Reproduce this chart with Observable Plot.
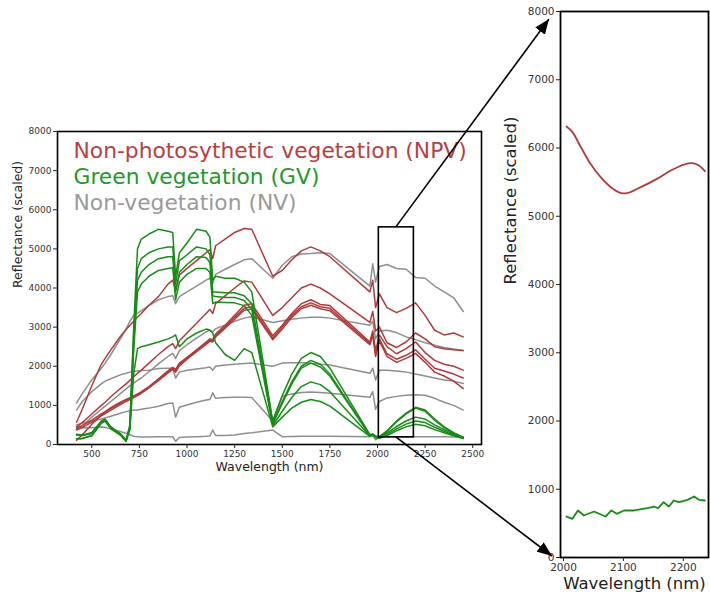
<!DOCTYPE html>
<html>
<head>
<meta charset="utf-8">
<script src="https://cdn.jsdelivr.net/npm/d3@7"></script>
<script src="https://cdn.jsdelivr.net/npm/@observablehq/plot@0.6"></script>
<style>
  html, body { margin: 0; padding: 0; background: #fff; }
  #fig { position: relative; width: 710px; height: 599px; overflow: hidden; background: #fff; }
  #main, #inset, #overlay { position: absolute; top: 0; }
  #main { left: 0; }
  #inset { left: 490px; }
  #overlay { left: 0; pointer-events: none; }
</style>
</head>
<body>
<div id="fig">
  <div id="main"></div>
  <div id="inset"></div>
  <svg id="overlay" width="710" height="599"></svg>
</div>
<script>
// ---------- data ----------
const wl = [420,450,500,550,570,600,650,680,700,720,740,760,800,850,900,925,940,960,1000,1050,1100,1120,1135,1150,1200,1250,1300,1340,1450,1500,1550,1600,1650,1700,1750,1960,1975,1990,2010,2050,2100,2150,2200,2250,2300,2350,2400,2450];

// Non-photosynthetic vegetation (NPV)
const npv1 = [570,900,1500,2050,2200,2420,2760,2940,3050,3150,3250,3350,3560,3780,4100,4200,3950,4330,4500,4700,4900,4980,4750,5080,5250,5420,5520,5500,4300,4450,4720,4950,5050,4950,4800,3900,4200,3500,3850,3500,3370,3480,3620,3300,2920,2800,2850,2750];
const npv2 = [450,560,780,1000,1080,1220,1430,1550,1640,1730,1820,1900,2080,2300,2500,2580,2450,2650,2850,3100,3350,3450,3350,3600,3800,4000,4180,4150,3300,3500,3750,4000,4100,4000,3850,3120,3400,2900,3000,2600,2480,2620,2850,2700,2500,2450,2420,2400];
const npv3 = [420,480,620,780,840,920,1060,1140,1190,1240,1290,1350,1480,1680,1880,1970,1920,2080,2230,2420,2620,2700,2680,2820,3050,3300,3560,3600,2780,3050,3350,3600,3700,3580,3550,2620,2900,2400,2800,2500,2320,2450,2620,2350,2150,2050,2000,1900];
const npv4 = [370,430,570,730,790,880,1020,1100,1150,1200,1250,1310,1450,1650,1850,1940,1880,2040,2200,2390,2590,2670,2650,2780,3000,3250,3480,3520,2720,3000,3300,3520,3620,3520,3480,2580,2850,2300,2700,2320,2180,2280,2420,2180,1950,1880,1800,1700];
const npv5 = [110,250,520,750,830,940,1080,1150,1190,1230,1280,1330,1450,1630,1830,1920,1850,2010,2180,2370,2560,2640,2620,2750,2970,3200,3430,3460,2680,2950,3250,3470,3560,3470,3420,2550,2800,2250,2650,2250,2100,2200,2330,2100,1850,1750,1620,1430];

// Green vegetation (GV)
const gv1 = [250,230,300,600,650,450,280,120,500,3000,5000,5250,5380,5500,5450,5420,4300,4900,5150,5500,5450,5300,4200,4300,4250,4250,4150,3900,600,1250,1800,2200,2350,2250,1950,250,270,220,200,350,600,800,950,880,650,450,300,190];
const gv2 = [150,160,230,560,620,420,250,90,450,2800,4500,4750,4900,5000,5050,5050,4100,4700,4850,5050,5000,4850,3900,3900,3880,3880,3800,3600,550,1100,1600,2000,2150,2050,1800,240,260,200,190,340,580,780,930,850,620,430,280,180];
const gv3 = [260,240,300,580,640,440,270,100,420,2600,4200,4400,4600,4750,4800,4800,3900,4400,4600,4800,4780,4650,3800,3780,3760,3760,3680,3450,520,1050,1550,1950,2080,1980,1750,230,250,190,180,300,460,600,700,650,500,380,260,170];
const gv4 = [140,150,220,540,600,400,240,80,400,2400,3900,4100,4300,4450,4500,4520,3700,4150,4350,4500,4500,4400,3600,3640,3630,3620,3550,3300,480,850,1200,1480,1600,1530,1350,220,240,180,170,260,400,520,600,560,440,340,240,160];
const gv5 = [250,230,280,560,620,430,260,110,380,1800,2450,2500,2550,2620,2700,2750,2800,2500,2700,2850,2950,2920,2850,2600,2300,2150,2450,2350,450,700,930,1080,1150,1100,980,210,230,170,160,230,350,450,520,480,380,300,220,150];

// Non-vegetation (NV)
const nv1 = [1060,1300,1650,1950,2080,2300,2700,2950,3150,3300,3350,3420,3550,3700,3780,3800,3600,3780,3900,4050,4200,4250,4120,4350,4480,4600,4720,4750,4250,4580,4800,4870,4880,4900,4880,4050,4620,4150,4550,4600,4500,4480,4270,4250,4050,3900,3750,3400];
const nv2 = [880,1100,1350,1550,1620,1680,1780,1820,1850,1870,1880,1890,1900,1940,1950,1950,1700,1850,1900,1930,1960,1980,1900,2000,2030,2050,2070,2080,2000,2080,2090,2090,2080,2050,2030,1820,1950,1650,1900,1900,1880,1850,1800,1750,1700,1650,1620,1560];
const nv3 = [500,550,600,650,680,720,800,840,860,880,880,900,930,980,1050,1060,700,950,1010,1080,1140,1150,1320,1180,1200,1210,1210,1200,600,1230,1290,1330,1340,1330,1310,1210,1350,900,1100,1190,1230,1260,1270,1260,1180,1080,1000,880];
const nv4 = [400,430,430,450,440,400,330,290,250,210,195,190,190,195,200,200,80,180,190,200,210,220,370,230,230,240,280,300,370,200,205,210,210,210,210,200,250,120,190,200,200,200,200,200,195,195,190,190];
const nv5 = [380,480,700,900,980,1100,1300,1420,1500,1570,1640,1700,1860,2060,2250,2330,2200,2400,2550,2720,2880,2920,2880,2960,3050,3150,3230,3270,3120,3160,3200,3230,3250,3250,3230,3050,3150,2700,2900,2920,2860,2750,2680,2600,2540,2480,2440,2400];

// zoom box on the main chart (wavelength, reflectance)
const boxWl = [2007, 2191];
const boxRefl = [183, 5550];

// inset (zoomed) spectra
const zoomWlRed = [2005,2015,2029,2045,2062,2079,2095,2106,2129,2156,2179,2201,2215,2226,2236];
const zoomRed   = [6315,6232,6012,5768,5572,5426,5344,5338,5426,5548,5670,5758,5777,5744,5660];
const zoomWlGreen = [2005,2015,2024,2034,2051,2070,2080,2089,2101,2118,2140,2151,2158,2167,2176,2184,2193,2207,2218,2226,2236];
const zoomGreen   = [600,567,689,615,674,600,689,640,689,689,722,747,722,810,747,835,810,845,894,845,835];

const classes = ["NPV", "GV", "NV"];
const legendLabels = ["Non-photosythetic vegetation (NPV)", "Green vegetation (GV)", "Non-vegetation (NV)"];
const xTicksMain = [500, 750, 1000, 1250, 1500, 1750, 2000, 2250, 2500];
const yTicks = [0, 1000, 2000, 3000, 4000, 5000, 6000, 7000, 8000];
const xTicksInset = [2000, 2100, 2200];

// ---------- styling ----------
const RED = "#b13a3a", GREEN = "#178c17", GRAY = "#8e8e8e";
const RED_T = "#b5413f", GREEN_T = "#23992a", GRAY_T = "#9a9a9a";
const fmt = d3.format("d");

// ---------- build table ----------
const seriesList = [
  ["NV", "nv1", nv1], ["NV", "nv2", nv2], ["NV", "nv3", nv3], ["NV", "nv4", nv4], ["NV", "nv5", nv5],
  ["NPV", "npv1", npv1], ["NPV", "npv2", npv2], ["NPV", "npv3", npv3], ["NPV", "npv4", npv4], ["NPV", "npv5", npv5],
  ["GV", "gv1", gv1], ["GV", "gv2", gv2], ["GV", "gv3", gv3], ["GV", "gv4", gv4], ["GV", "gv5", gv5]
];
const table = [];
for (const [cls, id, vals] of seriesList) {
  vals.forEach((v, i) => table.push({cls, id, wl: wl[i], v}));
}
const box = [{x1: boxWl[0], x2: boxWl[1], y1: boxRefl[0], y2: boxRefl[1]}];

const font = "DejaVu Sans, Verdana, sans-serif";

const main = Plot.plot({
  width: 500, height: 490,
  marginLeft: 57, marginRight: 19, marginTop: 131, marginBottom: 46,
  style: {fontFamily: font, fontSize: "9px", color: "#333", background: "transparent", overflow: "visible"},
  x: {domain: [320, 2546]},
  y: {domain: [0, 8000]},
  color: {domain: classes, range: [RED, GREEN, GRAY]},
  marks: [
    Plot.line(table, {x: "wl", y: "v", z: "id", stroke: "cls", strokeWidth: 1.5, strokeLinejoin: "round"}),
    Plot.rect(box, {x1: "x1", x2: "x2", y1: "y1", y2: "y2", fill: "none", stroke: "black", strokeWidth: 1.6}),
    Plot.frame({stroke: "black", strokeWidth: 1.6}),
    Plot.axisX({ticks: xTicksMain, tickFormat: fmt, tickSize: 4, tickPadding: 2, label: null, stroke: "#222"}),
    Plot.axisY({ticks: yTicks, tickFormat: fmt, tickSize: 4, tickPadding: 2, label: null, stroke: "#222"}),
    Plot.text([legendLabels[0]], {frameAnchor: "top-left", dx: 16, dy: 11, lineAnchor: "top", textAnchor: "start", fill: RED_T, fontSize: 21.8}),
    Plot.text([legendLabels[1]], {frameAnchor: "top-left", dx: 16, dy: 37, lineAnchor: "top", textAnchor: "start", fill: GREEN_T, fontSize: 21.8}),
    Plot.text([legendLabels[2]], {frameAnchor: "top-left", dx: 16, dy: 63, lineAnchor: "top", textAnchor: "start", fill: GRAY_T, fontSize: 21.8}),
    Plot.text(["Wavelength (nm)"], {frameAnchor: "bottom", dy: 26, fill: "#222", fontSize: 12.5}),
    Plot.text(["Reflectance (scaled)"], {frameAnchor: "left", dx: -40, rotate: -90, fill: "#222", fontSize: 12.5})
  ]
});
document.getElementById("main").appendChild(main);

const insetRed = zoomWlRed.map((w, i) => ({wl: w, v: zoomRed[i]}));
const insetGreen = zoomWlGreen.map((w, i) => ({wl: w, v: zoomGreen[i]}));

const inset = Plot.plot({
  width: 220, height: 599,
  marginLeft: 70, marginRight: 2, marginTop: 11, marginBottom: 42,
  style: {fontFamily: font, fontSize: "10.5px", color: "#333", background: "transparent", overflow: "visible"},
  x: {domain: [1995, 2242]},
  y: {domain: [0, 8000]},
  marks: [
    Plot.line(insetRed, {x: "wl", y: "v", stroke: RED, strokeWidth: 1.8, curve: "catmull-rom"}),
    Plot.line(insetGreen, {x: "wl", y: "v", stroke: GREEN, strokeWidth: 1.8}),
    Plot.frame({stroke: "black", strokeWidth: 1.8}),
    Plot.axisX({ticks: xTicksInset, tickFormat: fmt, tickSize: 4, tickPadding: 2, label: null, stroke: "#222"}),
    Plot.axisY({ticks: yTicks, tickFormat: fmt, tickSize: 4, tickPadding: 2, label: null, stroke: "#222"}),
    Plot.text(["Wavelength (nm)"], {frameAnchor: "bottom", dy: 31, fill: "#222", fontSize: 16.5}),
    Plot.text(["Reflectance (scaled)"], {frameAnchor: "left", dx: -50, rotate: -90, fill: "#222", fontSize: 16.5})
  ]
});
document.getElementById("inset").appendChild(inset);

// ---------- arrows linking the box to the inset ----------
const mx = main.scale("x"), my = main.scale("y");
const ix = inset.scale("x"), iy = inset.scale("y");
const insetLeft = 490;
const cx = mx.apply((boxWl[0] + boxWl[1]) / 2);
const arrows = [
  {x1: cx, y1: my.apply(boxRefl[1]), x2: insetLeft + ix.apply(ix.domain[0]) - 11, y2: iy.apply(8000) + 8},
  {x1: cx, y1: my.apply(boxRefl[0]), x2: insetLeft + ix.apply(ix.domain[0]) - 8, y2: iy.apply(0) - 1}
];
const ov = d3.select("#overlay");
ov.append("defs").append("marker")
  .attr("id", "ah").attr("viewBox", "0 0 15 12").attr("refX", 15).attr("refY", 6)
  .attr("markerWidth", 15).attr("markerHeight", 12).attr("markerUnits", "userSpaceOnUse")
  .attr("orient", "auto")
  .append("path").attr("d", "M0,0L15,6L0,12Z").attr("fill", "black");
ov.selectAll("line.arrow").data(arrows).join("line")
  .attr("class", "arrow")
  .attr("x1", d => d.x1).attr("y1", d => d.y1)
  .attr("x2", d => d.x2).attr("y2", d => d.y2)
  .attr("stroke", "black").attr("stroke-width", 1.6)
  .attr("marker-end", "url(#ah)");
</script>
</body>
</html>
